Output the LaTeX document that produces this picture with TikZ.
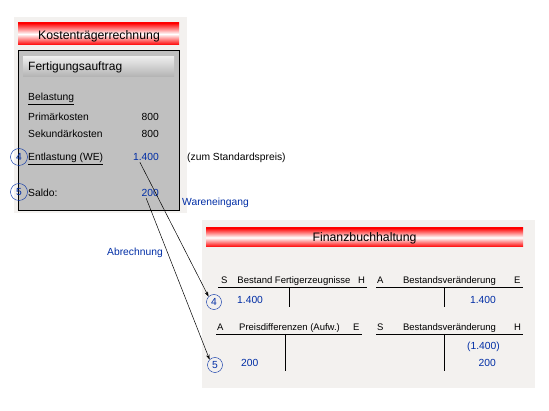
\documentclass[tikz,border=0pt]{standalone}
\usepackage{fontspec}
\setmainfont{Liberation Sans}
\usetikzlibrary{arrows.meta}
\definecolor{txtblue}{RGB}{0,45,165}
\definecolor{paper}{RGB}{243,241,239}
\definecolor{boxgray}{RGB}{192,192,192}
\begin{document}
\begin{tikzpicture}[x=1pt,y=-1pt,
  bg/.style={fill=paper,draw=none},
  banner/.style={top color=red,bottom color=red,middle color=white,draw=none},
  lbl/.style={inner sep=0pt,anchor=base west,font=\fontsize{10.3}{12}\selectfont},
  lblr/.style={inner sep=0pt,anchor=base east,font=\fontsize{10.3}{12}\selectfont},
  hdr/.style={inner sep=0pt,anchor=base west,font=\fontsize{9.5}{11}\selectfont},
  num/.style={text=txtblue},
  numcirc/.style={circle,draw=txtblue,text=txtblue,minimum size=17pt,inner sep=0pt,font=\fontsize{10.3}{12}\selectfont},
  numcircb/.style={circle,draw=txtblue,text=txtblue,minimum size=15pt,inner sep=0pt,font=\fontsize{10.3}{12}\selectfont},
  tline/.style={draw=black,line width=0.9pt},
  conn/.style={draw=black,line width=0.5pt,-{Stealth[length=5pt,width=3.5pt]}}]
\useasboundingbox (0,0) rectangle (549,411);
% left panel
\fill[bg] (14,17) rectangle (187,213);
\shade[banner] (18,23) rectangle (179,45);
\node[inner sep=0pt,anchor=base,font=\fontsize{12.3}{14}\selectfont] (kt) at (99,40) {Kostenträgerrechnung};
\draw[fill=boxgray,line width=0.8pt] (18,50) rectangle (179,210);
\shade[top color=white!85!gray,middle color=white,bottom color=gray!60,draw=none] (23,57) rectangle (174,77);
\node[inner sep=0pt,anchor=base west,font=\fontsize{12}{13}\selectfont] (fa) at (28,71) {Fertigungsauftrag};
\node[lbl] (bel) at (28,101) {\underline{Belastung}};
\node[lbl] (pk) at (28,121) {Primärkosten};
\node[lblr] (pkv) at (159,121) {800};
\node[lbl] (sk) at (28,138) {Sekundärkosten};
\node[lblr] (skv) at (159,138) {800};
\node[numcirc] (c4l) at (19,157) {4};
\node[lbl] (ent) at (28,161) {\underline{Entlastung (WE)}};
\node[lblr,num] (entv) at (159,161) {1.400};
\node[lbl] (std) at (187,161) {(zum Standardspreis)};
\node[numcirc] (c5l) at (19,192) {5};
\node[lbl] (sal) at (28,197) {Saldo:};
\node[lblr,num] (salv) at (159,197) {200};
\node[lbl,text=txtblue] (we) at (182,206) {Wareneingang};
\node[lbl,text=txtblue] (abr) at (107,256) {Abrechnung};
% right panel
\fill[bg] (202,220) rectangle (535,388);
\shade[banner] (206,228) rectangle (523,247);
\node[inner sep=0pt,anchor=base,font=\fontsize{12.3}{14}\selectfont] (fb) at (364.5,242) {Finanzbuchhaltung};
% account 1
\draw[tline] (218,287.5) -- (367,287.5);
\draw[tline] (289,287.5) -- (289,307);
\node[hdr] (s1) at (221,284) {S};
\node[hdr,anchor=base] (t1) at (294,284) {Bestand Fertigerzeugnisse};
\node[hdr] (h1) at (358,284) {H};
\node[lbl,num] (a1v) at (237,304) {1.400};
\node[numcircb] (c4r) at (214,302) {4};
% account 2
\draw[tline] (376,287.5) -- (523,287.5);
\draw[tline] (444,287.5) -- (444,307);
\node[hdr] (a2) at (377,284) {A};
\node[hdr,anchor=base] (t2) at (449.5,284) {Bestandsveränderung};
\node[hdr] (e2) at (514,284) {E};
\node[lblr,num] (a2v) at (496,304) {1.400};
% account 3
\draw[tline] (216,334) -- (362,334);
\draw[tline] (285,334) -- (285,371);
\node[hdr] (a3) at (217,331) {A};
\node[hdr,anchor=base] (t3) at (289.5,331) {Preisdifferenzen (Aufw.)};
\node[hdr] (e3) at (353,331) {E};
\node[lbl,num] (a3v) at (241,367) {200};
\node[numcircb] (c5r) at (215,365) {5};
% account 4
\draw[tline] (376,334) -- (523,334);
\draw[tline] (444,334) -- (444,371);
\node[hdr] (s4) at (377,331) {S};
\node[hdr,anchor=base] (t4) at (449.5,331) {Bestandsveränderung};
\node[hdr] (h4) at (514,331) {H};
\node[lblr,num] (a4v1) at (500,350) {(1.400)};
\node[lblr,num] (a4v2) at (496,367) {200};
% connectors
\draw[conn] ([xshift=-6pt,yshift=-1pt]entv.south) -- (c4r.north west);
\draw[conn] ([xshift=-4pt,yshift=-1pt]salv.south) -- (c5r.north west);
\end{tikzpicture}
\end{document}
